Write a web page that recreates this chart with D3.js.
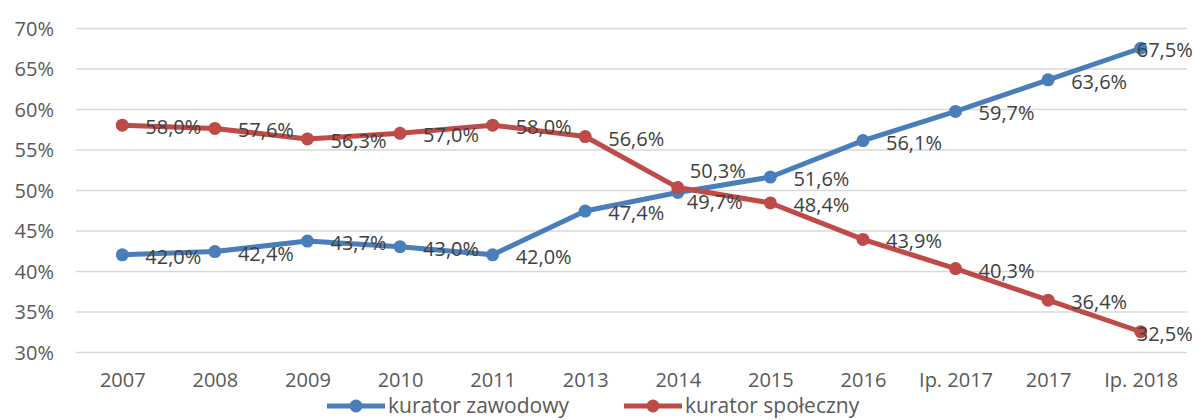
<!DOCTYPE html>
<html>
<head>
<meta charset="utf-8">
<script src="https://cdn.jsdelivr.net/npm/d3@7"></script>
<style>
	body { margin: 0; background: #fff; }
	svg text { font-family: "Open Sans", sans-serif; }
</style>
</head>
<body>
<div class="canvas"></div>
<script>
// data
const categories = ['2007', '2008', '2009', '2010', '2011', '2013', '2014', '2015', '2016', 'Ip. 2017', '2017', 'Ip. 2018'];
const zawodowy = [42.0, 42.4, 43.7, 43.0, 42.0, 47.4, 49.7, 51.6, 56.1, 59.7, 63.6, 67.5];
const spoleczny = [58.0, 57.6, 56.3, 57.0, 58.0, 56.6, 50.3, 48.4, 43.9, 40.3, 36.4, 32.5];
const yTicks = [30, 35, 40, 45, 50, 55, 60, 65, 70];

const series = [
	{ name: 'kurator zawodowy', values: zawodowy, colour: '#4a7ebb' },
	{ name: 'kurator społeczny', values: spoleczny, colour: '#be4b48' }
];

const dims = { width: 1202, height: 420 };
const plot = { left: 76, right: 1187, top: 28, bottom: 352 };

const svg = d3.select('.canvas').append('svg')
	.attr('width', dims.width)
	.attr('height', dims.height);

const x = d3.scalePoint()
	.domain(categories)
	.range([plot.left, plot.right])
	.padding(0.5);

const y = d3.scaleLinear()
	.domain([30, 70])
	.range([plot.bottom, plot.top]);

const fmt = v => v.toFixed(1).replace('.', ',') + '%';

// y axis + gridlines
const yAxis = svg.append('g')
	.attr('transform', `translate(${plot.left}, 0)`)
	.call(d3.axisLeft(y).tickValues(yTicks).tickSize(-(plot.right - plot.left)).tickPadding(22).tickFormat(d => d + '%'));

yAxis.select('.domain').remove();
yAxis.selectAll('line').attr('stroke', '#d9d9d9').attr('stroke-width', 1.3);
yAxis.selectAll('text')
	.attr('fill', '#595959')
	.style('font-size', '20px')
	.attr('dy', '0.35em');

// x axis
const xAxis = svg.append('g')
	.attr('transform', `translate(0, ${plot.bottom})`)
	.call(d3.axisBottom(x).tickSize(0).tickPadding(21));

xAxis.select('.domain').remove();
xAxis.selectAll('text')
	.attr('fill', '#595959')
	.style('font-size', '20px')
	.attr('dy', '0.7em');

// lines
const line = d3.line()
	.x((d, i) => x(categories[i]))
	.y(d => y(d));

series.forEach(s => {
	svg.append('path')
		.datum(s.values)
		.attr('fill', 'none')
		.attr('stroke', s.colour)
		.attr('stroke-width', 5)
		.attr('stroke-linejoin', 'round')
		.attr('d', line);

	svg.append('g').selectAll('circle')
		.data(s.values)
		.enter().append('circle')
		.attr('cx', (d, i) => x(categories[i]))
		.attr('cy', d => y(d))
		.attr('r', 6.5)
		.attr('fill', s.colour);
});

// data labels, a few nudged like the original
const labelShift = (si, i) => {
	if (i === categories.length - 1) return { dx: -4, dy: 2 };
	if (i === 6) return si === 0 ? { dx: 9, dy: 10 } : { dx: 12, dy: -17 };
	return { dx: 23, dy: 2 };
};

series.forEach((s, si) => {
	svg.append('g').selectAll('text')
		.data(s.values)
		.enter().append('text')
		.attr('x', (d, i) => x(categories[i]) + labelShift(si, i).dx)
		.attr('y', (d, i) => y(d) + labelShift(si, i).dy)
		.attr('dy', '0.35em')
		.attr('fill', '#404040')
		.style('font-size', '20px')
		.text(d => fmt(d));
});

// legend
const legend = svg.append('g')
	.attr('transform', 'translate(0, 406)');

const legendPos = [327, 624];

series.forEach((s, i) => {
	const g = legend.append('g').attr('transform', `translate(${legendPos[i]}, 0)`);
	g.append('line')
		.attr('x1', 0).attr('x2', 58)
		.attr('stroke', s.colour)
		.attr('stroke-width', 5);
	g.append('circle')
		.attr('cx', 29).attr('r', 6.5)
		.attr('fill', s.colour);
	g.append('text')
		.attr('x', 61)
		.attr('dy', '0.32em')
		.attr('fill', '#595959')
		.style('font-size', '21px')
		.text(s.name);
});
</script>
</body>
</html>
